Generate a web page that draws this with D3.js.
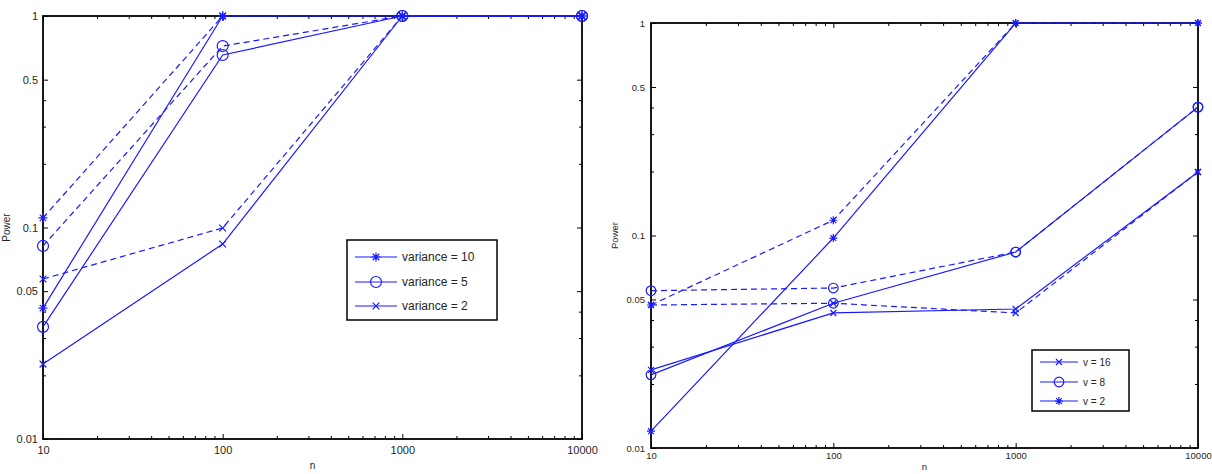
<!DOCTYPE html>
<html>
<head>
<meta charset="utf-8">
<script src="https://cdn.jsdelivr.net/npm/d3@7"></script>
<style>
  body { margin: 0; background: #fff; }
  svg { display: block; font-family: "Liberation Sans", Arial, sans-serif; }
  .axis path { display: none; }
  .axis line { stroke: #000; stroke-width: 1; }
  .axis text { fill: #262626; }
</style>
</head>
<body>
<div class="chart"></div>
<script>
// Sample sizes (shared x values)
var nValues = [10, 100, 1000, 10000];

// Left panel: power per variance, solid and dashed runs
var var10Solid  = [0.0416, 1, 1, 1];
var var10Dashed = [0.111, 1, 1, 1];
var var5Solid   = [0.0339, 0.654, 1, 1];
var var5Dashed  = [0.0818, 0.721, 1, 1];
var var2Solid   = [0.0226, 0.0835, 1, 1];
var var2Dashed  = [0.0571, 0.0995, 1, 1];

// Right panel: power per v, solid and dashed runs
var v16Solid  = [0.0233, 0.0432, 0.0451, 0.199];
var v16Dashed = [0.0471, 0.048, 0.0432, 0.199];
var v8Solid   = [0.0221, 0.048, 0.0836, 0.402];
var v8Dashed  = [0.055, 0.0566, 0.0836, 0.402];
var v2Solid   = [0.0120, 0.0973, 1, 1];
var v2Dashed  = [0.0471, 0.118, 1, 1];

// Tick values
var xMajorTicks = [10, 100, 1000, 10000];
var xMinorTicks = [20, 30, 40, 50, 60, 70, 80, 90, 200, 300, 400, 500, 600, 700, 800, 900,
                   2000, 3000, 4000, 5000, 6000, 7000, 8000, 9000];
var yMajorTicks = [0.01, 0.05, 0.1, 0.5, 1];
var yMinorTicks = [0.02, 0.03, 0.04, 0.2, 0.3, 0.4];

var leftLegend = ["variance = 10", "variance = 5", "variance = 2"];
var rightLegend = ["v = 16", "v = 8", "v = 2"];

var blue = "#1a1aff";

var svg = d3.select(".chart").append("svg")
    .attr("width", 1212)
    .attr("height", 474);

// marker paths
function markerPath(type, s) {
    var d = s * 0.72;
    if (type === "star") {
        return "M0," + (-s) + "L0," + s + "M" + (-s) + ",0L" + s + ",0" +
            "M" + (-d) + "," + (-d) + "L" + d + "," + d + "M" + (-d) + "," + d + "L" + d + "," + (-d);
    }
    return "M" + (-s * 0.75) + "," + (-s * 0.75) + "L" + (s * 0.75) + "," + (s * 0.75) +
        "M" + (-s * 0.75) + "," + (s * 0.75) + "L" + (s * 0.75) + "," + (-s * 0.75);
}

function drawMarker(g, type, x, y, size, r) {
    if (type === "circle") {
        g.append("circle").attr("cx", x).attr("cy", y).attr("r", r)
            .attr("fill", "none").attr("stroke", blue).attr("stroke-width", 1.2);
    } else {
        g.append("path").attr("transform", "translate(" + x + "," + y + ")")
            .attr("d", markerPath(type, size))
            .attr("fill", "none").attr("stroke", blue).attr("stroke-width", 1.2);
    }
}

function drawPanel(cfg) {
    var x = d3.scaleLog().domain([10, 10000]).range([cfg.x0, cfg.x1]);
    var y = d3.scaleLog().domain([0.01, 1]).range([cfg.y1, cfg.y0]);
    var fmt = function(d) { return String(d); };

    // bottom axis (labels + inward ticks)
    svg.append("g").attr("class", "axis")
        .attr("transform", "translate(0," + cfg.y1 + ")")
        .style("font-size", cfg.tickFont + "px")
        .call(d3.axisBottom(x).tickValues(xMajorTicks).tickFormat(fmt)
            .tickSize(-5).tickPadding(cfg.xPad));
    svg.append("g").attr("class", "axis")
        .attr("transform", "translate(0," + cfg.y1 + ")")
        .call(d3.axisBottom(x).tickValues(xMinorTicks).tickFormat("").tickSize(-3));
    // top axis
    svg.append("g").attr("class", "axis")
        .attr("transform", "translate(0," + cfg.y0 + ")")
        .call(d3.axisTop(x).tickValues(xMajorTicks).tickFormat("").tickSize(-5));
    svg.append("g").attr("class", "axis")
        .attr("transform", "translate(0," + cfg.y0 + ")")
        .call(d3.axisTop(x).tickValues(xMinorTicks).tickFormat("").tickSize(-3));
    // left axis
    svg.append("g").attr("class", "axis")
        .attr("transform", "translate(" + cfg.x0 + ",0)")
        .style("font-size", cfg.tickFont + "px")
        .call(d3.axisLeft(y).tickValues(yMajorTicks).tickFormat(fmt)
            .tickSize(-5).tickPadding(cfg.yPad));
    svg.append("g").attr("class", "axis")
        .attr("transform", "translate(" + cfg.x0 + ",0)")
        .call(d3.axisLeft(y).tickValues(yMinorTicks).tickFormat("").tickSize(-3));
    // right axis
    svg.append("g").attr("class", "axis")
        .attr("transform", "translate(" + cfg.x1 + ",0)")
        .call(d3.axisRight(y).tickValues(yMajorTicks).tickFormat("").tickSize(-5));
    svg.append("g").attr("class", "axis")
        .attr("transform", "translate(" + cfg.x1 + ",0)")
        .call(d3.axisRight(y).tickValues(yMinorTicks).tickFormat("").tickSize(-3));

    // box
    svg.append("rect")
        .attr("x", cfg.x0).attr("y", cfg.y0)
        .attr("width", cfg.x1 - cfg.x0).attr("height", cfg.y1 - cfg.y0)
        .attr("fill", "none").attr("stroke", "#000").attr("stroke-width", 1.8);

    // lines and markers
    var line = d3.line()
        .x(function(d, i) { return x(nValues[i]); })
        .y(function(d) { return y(d); });
    var plot = svg.append("g");
    cfg.series.forEach(function(s) {
        plot.append("path")
            .attr("d", line(s.values))
            .attr("fill", "none")
            .attr("stroke", blue)
            .attr("stroke-width", 1.2)
            .attr("stroke-dasharray", s.dashed ? "6,4" : null);
        s.values.forEach(function(v, i) {
            drawMarker(plot, s.marker, x(nValues[i]), y(v), cfg.markSize, cfg.radius);
        });
    });

    // axis titles
    svg.append("text")
        .attr("x", (cfg.x0 + cfg.x1) / 2)
        .attr("y", cfg.nY)
        .attr("text-anchor", "middle")
        .style("font-size", cfg.titleFont + "px")
        .attr("fill", "#262626")
        .text("n");
    svg.append("text")
        .attr("transform", "translate(" + cfg.powerX + "," + ((cfg.y0 + cfg.y1) / 2) + ") rotate(-90)")
        .attr("text-anchor", "middle")
        .style("font-size", cfg.titleFont + "px")
        .attr("fill", "#262626")
        .text("Power");

    // legend
    var lg = cfg.legend;
    svg.append("rect")
        .attr("x", lg.x).attr("y", lg.y)
        .attr("width", lg.w).attr("height", lg.h)
        .attr("fill", "#fff").attr("stroke", "#000").attr("stroke-width", 1.5);
    lg.labels.forEach(function(label, i) {
        var ry = lg.rows[i];
        svg.append("line")
            .attr("x1", lg.lx1).attr("x2", lg.lx2)
            .attr("y1", ry).attr("y2", ry)
            .attr("stroke", blue).attr("stroke-width", 1.2);
        drawMarker(svg, lg.markers[i], (lg.lx1 + lg.lx2) / 2, ry, cfg.markSize, cfg.radius);
        svg.append("text")
            .attr("x", lg.tx).attr("y", ry)
            .attr("dy", "0.35em")
            .style("font-size", lg.font + "px")
            .attr("fill", "#262626")
            .text(label);
    });
}

drawPanel({
    x0: 43, x1: 582, y0: 16, y1: 439,
    tickFont: 11, xPad: 7, yPad: 5, titleFont: 10,
    nY: 469, powerX: 10,
    markSize: 4.5, radius: 5.5,
    series: [
        { values: var10Solid,  marker: "star",   dashed: false },
        { values: var10Dashed, marker: "star",   dashed: true },
        { values: var5Solid,   marker: "circle", dashed: false },
        { values: var5Dashed,  marker: "circle", dashed: true },
        { values: var2Solid,   marker: "x",      dashed: false },
        { values: var2Dashed,  marker: "x",      dashed: true }
    ],
    legend: {
        x: 347, y: 240, w: 150, h: 80,
        rows: [257, 282, 306],
        lx1: 355, lx2: 397, tx: 402, font: 12,
        labels: leftLegend,
        markers: ["star", "circle", "x"]
    }
});

drawPanel({
    x0: 651, x1: 1198, y0: 23, y1: 448,
    tickFont: 9.5, xPad: 4, yPad: 6, titleFont: 9.5,
    nY: 470, powerX: 618,
    markSize: 4, radius: 4.8,
    series: [
        { values: v16Solid,  marker: "x",      dashed: false },
        { values: v16Dashed, marker: "x",      dashed: true },
        { values: v8Solid,   marker: "circle", dashed: false },
        { values: v8Dashed,  marker: "circle", dashed: true },
        { values: v2Solid,   marker: "star",   dashed: false },
        { values: v2Dashed,  marker: "star",   dashed: true }
    ],
    legend: {
        x: 1032, y: 350, w: 97, h: 61,
        rows: [362, 382, 401],
        lx1: 1040, lx2: 1078, tx: 1083, font: 10,
        labels: rightLegend,
        markers: ["x", "circle", "star"]
    }
});
</script>
</body>
</html>
